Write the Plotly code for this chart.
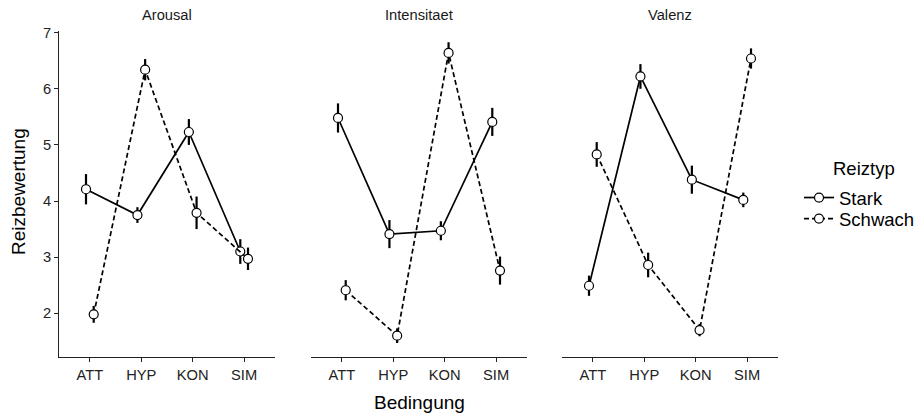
import numpy as np
import plotly.graph_objects as go
from plotly.subplots import make_subplots

categories = ["ATT", "HYP", "KON", "SIM"]
panels = ["Arousal", "Intensitaet", "Valenz"]
series_names = ["Stark", "Schwach"]

# means and standard errors per panel
arousal_stark = [4.21, 3.75, 5.23, 3.10]
arousal_stark_se = [0.27, 0.14, 0.23, 0.22]
arousal_schwach = [1.98, 6.34, 3.79, 2.97]
arousal_schwach_se = [0.15, 0.19, 0.29, 0.20]

intens_stark = [5.48, 3.41, 3.47, 5.41]
intens_stark_se = [0.26, 0.25, 0.17, 0.25]
intens_schwach = [2.41, 1.60, 6.64, 2.76]
intens_schwach_se = [0.18, 0.13, 0.19, 0.25]

valenz_stark = [2.49, 6.22, 4.38, 4.02]
valenz_stark_se = [0.18, 0.22, 0.25, 0.13]
valenz_schwach = [4.83, 2.86, 1.70, 6.54]
valenz_schwach_se = [0.22, 0.22, 0.11, 0.18]

data = {
    "Arousal": [(arousal_stark, arousal_stark_se), (arousal_schwach, arousal_schwach_se)],
    "Intensitaet": [(intens_stark, intens_stark_se), (intens_schwach, intens_schwach_se)],
    "Valenz": [(valenz_stark, valenz_stark_se), (valenz_schwach, valenz_schwach_se)],
}

FONT = "Liberation Sans, Arial, sans-serif"
dodge = 0.075
idx = np.arange(1, len(categories) + 1)
offsets = [-dodge, dodge]
dashes = ["solid", "5px,3px"]
legends = ["legend", "legend2"]

fig = make_subplots(rows=1, cols=3, shared_yaxes=True, horizontal_spacing=0.05)

for c, panel in enumerate(panels, start=1):
    for s, (name, (vals, se)) in enumerate(zip(series_names, data[panel])):
        fig.add_trace(
            go.Scatter(
                x=idx + offsets[s],
                y=vals,
                mode="lines+markers",
                name=name,
                legend=legends[s],
                showlegend=(c == 1),
                line=dict(color="black", width=1.7, dash=dashes[s]),
                marker=dict(symbol="circle", size=9, color="white",
                            line=dict(color="black", width=1.2)),
                error_y=dict(type="data", array=se, visible=True,
                             color="black", thickness=2.2, width=0),
            ),
            row=1, col=c,
        )

# domains in paper coords (plot area 59..778 px)
W = 719.0
H = 326.0
doms = [(0, 216), (252, 468), (503, 719)]
for i, (a, b) in enumerate(doms, start=1):
    fig.update_xaxes(domain=[a / W, b / W], row=1, col=i)

fig.update_xaxes(
    range=[0.4, 4.6], tickmode="array", tickvals=list(idx), ticktext=categories,
    showline=True, linecolor="#222", linewidth=1,
    ticks="outside", ticklen=4, tickcolor="#222", tickwidth=1,
    tickfont=dict(family=FONT, size=14.7, color="#222"),
    showgrid=False, zeroline=False,
)
fig.update_yaxes(
    range=[1.22, 7.03], tickmode="array", tickvals=[2, 3, 4, 5, 6, 7],
    showgrid=False, zeroline=False,
)
fig.update_yaxes(
    showline=True, linecolor="#222", linewidth=1,
    ticks="outside", ticklen=4, tickcolor="#222", tickwidth=1,
    tickfont=dict(family=FONT, size=14.7, color="#222"),
    row=1, col=1,
)
for c in (2, 3):
    fig.update_yaxes(showline=False, ticks="", showticklabels=False, row=1, col=c)

ann = []
for (a, b), panel in zip(doms, panels):
    ann.append(dict(text=panel, x=(a + b) / 2 / W, y=(357 - 15) / H, xref="paper", yref="paper",
                    showarrow=False, xanchor="center", yanchor="middle",
                    font=dict(family=FONT, size=14.7, color="#1a1a1a")))
ann.append(dict(text="Reizbewertung", x=(18 - 59) / W, y=(357 - 192) / H, xref="paper", yref="paper",
                showarrow=False, textangle=-90, xanchor="center", yanchor="middle",
                font=dict(family=FONT, size=19, color="black")))
ann.append(dict(text="Bedingung", x=(419 - 59) / W, y=(357 - 402) / H, xref="paper", yref="paper",
                showarrow=False, xanchor="center", yanchor="middle",
                font=dict(family=FONT, size=19, color="black")))
ann.append(dict(text="Reiztyp", x=(831 - 59) / W, y=(357 - 168) / H, xref="paper", yref="paper",
                showarrow=False, xanchor="left", yanchor="middle",
                font=dict(family=FONT, size=18.5, color="black")))

leg_common = dict(xanchor="left", yanchor="top",
                  font=dict(family=FONT, size=18.5, color="black"),
                  bgcolor="rgba(0,0,0,0)", itemwidth=30)

fig.update_layout(
    width=918, height=418,
    margin=dict(l=59, r=140, t=31, b=61, autoexpand=False),
    paper_bgcolor="white", plot_bgcolor="white",
    annotations=ann,
    legend=dict(x=(799 - 59) / W, y=(357 - 179) / H, **leg_common),
    legend2=dict(x=(799 - 59) / W, y=(357 - 200) / H, **leg_common),
    showlegend=True,
)

fig.write_html("out.html")
